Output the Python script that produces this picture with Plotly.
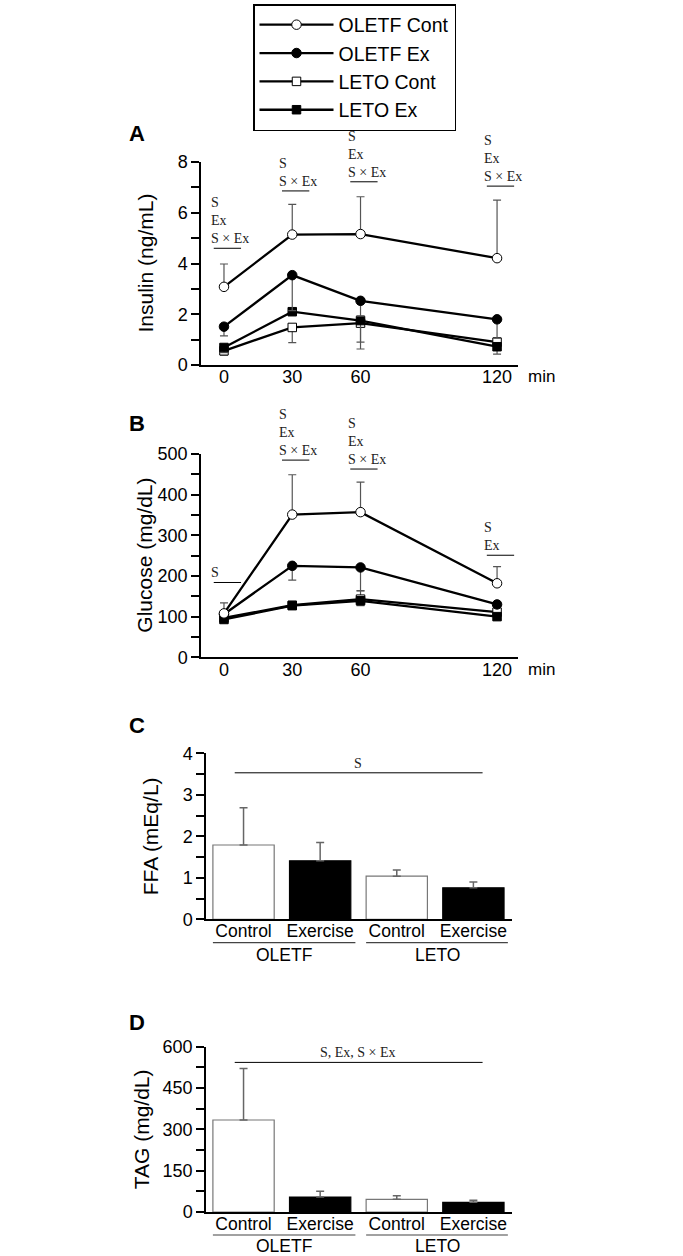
import plotly.graph_objects as go

# ---------------- data ----------------
times = [0, 30, 60, 120]
series_names = ["OLETF Cont", "OLETF Ex", "LETO Cont", "LETO Ex"]

insulin_oletf_cont = [3.08, 5.14, 5.16, 4.21]
insulin_oletf_ex = [1.51, 3.54, 2.53, 1.80]
insulin_leto_cont = [0.56, 1.48, 1.65, 0.90]
insulin_leto_ex = [0.69, 2.10, 1.75, 0.72]
insulin_err_up = {
    "OLETF Cont": [0.90, 1.19, 1.47, 2.29],
    "OLETF Ex": [0, 0, 0, 0],
    "LETO Cont": [0, 0, 0, 0.18],
    "LETO Ex": [0, 0, 0.18, 0],
}
insulin_err_down = {
    "OLETF Cont": [0, 0, 0, 0],
    "OLETF Ex": [0.36, 1.40, 0.60, 0.74],
    "LETO Cont": [0.17, 0.60, 1.02, 0],
    "LETO Ex": [0.20, 0, 0.85, 0.29],
}

glucose_oletf_cont = [108, 351, 357, 182]
glucose_oletf_ex = [106, 225, 221, 130]
glucose_leto_cont = [97, 128, 143, 111]
glucose_leto_ex = [93, 127, 139, 100]
glucose_err_up = {
    "OLETF Cont": [26, 98, 74, 41],
    "OLETF Ex": [0, 0, 0, 0],
    "LETO Cont": [8, 8, 20, 5],
    "LETO Ex": [0, 0, 0, 0],
}
glucose_err_down = {
    "OLETF Cont": [0, 0, 0, 0],
    "OLETF Ex": [0, 35, 57, 0],
    "LETO Cont": [0, 0, 0, 0],
    "LETO Ex": [8, 8, 12, 8],
}

bar_categories = ["Control", "Exercise", "Control", "Exercise"]
bar_groups = ["OLETF", "LETO"]
ffa_mean = [1.79, 1.41, 1.04, 0.76]
ffa_err = [0.90, 0.44, 0.15, 0.14]
tag_mean = [334, 54, 46, 35]
tag_err = [187, 21, 13, 8]

time_tick_labels = ["0", "30", "60", "120"]
insulin_sig = ["S<br>Ex<br>S × Ex", "S<br>S × Ex", "S<br>Ex<br>S × Ex", "S<br>Ex<br>S × Ex"]
glucose_sig = ["S", "S<br>Ex<br>S × Ex", "S<br>Ex<br>S × Ex", "S<br>Ex"]
ffa_sig = "S"
tag_sig = "S, Ex, S × Ex"

# ---------------- layout constants ----------------
W, H = 683, 1256
SANS = "Arial, Liberation Sans, Helvetica, sans-serif"
SERIF = "Times New Roman, Liberation Serif, serif"


def px_x(p):
    return p / W


def px_y(p):
    return 1 - p / H


insulin_sig_y = [4.6, 6.86, 7.22, 7.05]
glucose_sig_y = [184, 485, 463, 251]

styles = {
    "OLETF Cont": dict(symbol="circle", color="white", size=9.5),
    "OLETF Ex": dict(symbol="circle", color="black", size=9.5),
    "LETO Cont": dict(symbol="square", color="white", size=8.5),
    "LETO Ex": dict(symbol="square", color="black", size=8.5),
}

fig = go.Figure()

insulin = dict(zip(series_names, [insulin_oletf_cont, insulin_oletf_ex, insulin_leto_cont, insulin_leto_ex]))
glucose = dict(zip(series_names, [glucose_oletf_cont, glucose_oletf_ex, glucose_leto_cont, glucose_leto_ex]))

draw_order = ["LETO Cont", "LETO Ex", "OLETF Ex", "OLETF Cont"]
legend_rank = {n: i for i, n in enumerate(series_names)}

for ax, data, eu, ed in [("", insulin, insulin_err_up, insulin_err_down),
                         ("2", glucose, glucose_err_up, glucose_err_down)]:
    for name in draw_order:
        st = styles[name]
        fig.add_trace(go.Scatter(
            x=times, y=data[name], name=name,
            mode="lines+markers",
            line=dict(color="black", width=2.3),
            marker=dict(symbol=st["symbol"], size=st["size"], color=st["color"],
                        line=dict(color="black", width=1)),
            error_y=dict(type="data", symmetric=False, array=eu[name], arrayminus=ed[name],
                         color="#555", thickness=1.2, width=4),
            xaxis="x" + ax, yaxis="y" + ax,
            showlegend=(ax == ""), legendrank=legend_rank[name],
            cliponaxis=False,
        ))

bar_x = list(range(len(bar_categories)))
bar_fill = ["white", "black", "white", "black"]
bar_line = ["#777", "black", "#777", "black"]
for ax, vals, errs in [("3", ffa_mean, ffa_err), ("4", tag_mean, tag_err)]:
    fig.add_trace(go.Bar(
        x=bar_x, y=vals, width=0.8,
        marker=dict(color=bar_fill, line=dict(color=bar_line, width=1.2)),
        error_y=dict(type="data", symmetric=False, array=errs, arrayminus=[0] * len(errs),
                     color="#666", thickness=1.5, width=4),
        xaxis="x" + ax, yaxis="y" + ax, showlegend=False,
    ))

axis_common = dict(showline=True, linecolor="black", linewidth=1.5, showgrid=False,
                   zeroline=False, tickfont=dict(family=SANS, size=18, color="black"))
xcat_font = dict(family=SANS, size=17.5, color="black")

x_line = [px_x(201), px_x(518)]
x_bar = [px_x(206), px_x(511.7)]


def yax(dom, rng, major, minor, anchor):
    return dict(domain=dom, range=rng, dtick=major, ticks="outside", ticklen=8,
                tickwidth=1.5, tickcolor="black",
                minor=dict(dtick=minor, ticks="outside", ticklen=8, tickwidth=1.5, tickcolor="black"),
                anchor=anchor, **axis_common)


def xax(rng, vals, text, anchor, dom, font=None):
    d = dict(domain=dom, range=rng, tickvals=vals, ticktext=text, ticks="", anchor=anchor,
             ticklabelstandoff=-5, **axis_common)
    if font is not None:
        d["tickfont"] = font
    return d


fig.update_layout(
    width=W, height=H, margin=dict(l=0, r=0, t=0, b=0, autoexpand=False),
    paper_bgcolor="white", plot_bgcolor="white",
    font=dict(family=SANS, color="black"),
    xaxis=xax([-10.1, 129.2], times, time_tick_labels, "y", x_line),
    yaxis=yax([px_y(365), px_y(162)], [0, 8], 2, 1, "x"),
    xaxis2=xax([-10.1, 129.2], times, time_tick_labels, "y2", x_line),
    yaxis2=yax([px_y(657.3), px_y(454)], [0, 500], 100, 50, "x2"),
    xaxis3=xax([-0.49, 3.5], bar_x, bar_categories, "y3", x_bar, xcat_font),
    yaxis3=yax([px_y(919.3), px_y(753.3)], [0, 4], 1, 0.5, "x3"),
    xaxis4=xax([-0.49, 3.5], bar_x, bar_categories, "y4", x_bar, xcat_font),
    yaxis4=yax([px_y(1212), px_y(1046.7)], [0, 600], 150, 75, "x4"),
    legend=dict(x=px_x(253), y=px_y(4), xanchor="left", yanchor="top",
                bordercolor="black", borderwidth=1.5, bgcolor="white",
                font=dict(family=SANS, size=19.5, color="black"), itemwidth=74,
                tracegroupgap=0, traceorder="normal"),
    bargap=0.2,
)

annotations = []
shapes = []

# panel letters
for letter, ypix in [("A", 133), ("B", 423), ("C", 725), ("D", 1022.7)]:
    annotations.append(dict(text="<b>%s</b>" % letter, x=px_x(137), y=px_y(ypix), xref="paper", yref="paper",
                            showarrow=False, font=dict(family=SANS, size=22, color="black"),
                            xanchor="center", yanchor="middle"))

# y-axis titles
for title, xpix, ypix in [("Insulin (ng/mL)", 145, 263.5), ("Glucose (mg/dL)", 145, 555.7),
                          ("FFA (mEq/L)", 150, 836.3), ("TAG (mg/dL)", 141, 1129.3)]:
    annotations.append(dict(text=title, x=px_x(xpix), y=px_y(ypix), xref="paper", yref="paper",
                            showarrow=False, textangle=-90, font=dict(family=SANS, size=21, color="black"),
                            xanchor="center", yanchor="middle"))

# "min" labels
for ypix in [376.5, 669]:
    annotations.append(dict(text="min", x=px_x(541), y=px_y(ypix), xref="paper", yref="paper",
                            showarrow=False, font=dict(family=SANS, size=17, color="black"),
                            xanchor="center", yanchor="middle"))

# significance brackets for time courses
for ax, sig_texts, sig_y in [("", insulin_sig, insulin_sig_y), ("2", glucose_sig, glucose_sig_y)]:
    for t, txt, yv in zip(times, sig_texts, sig_y):
        shapes.append(dict(type="line", xref="x" + ax, yref="y" + ax, x0=t - 4.5, x1=t + 7.5,
                           y0=yv, y1=yv, line=dict(color="black", width=1)))
        annotations.append(dict(text=txt, x=t - 6.5, y=yv, xref="x" + ax, yref="y" + ax,
                                showarrow=False, align="left", xanchor="left", yanchor="bottom",
                                yshift=0, font=dict(family=SERIF, size=14, color="#222")))

# significance lines for bar panels
for ax, txt, yv in [("3", ffa_sig, 3.53), ("4", tag_sig, 543)]:
    shapes.append(dict(type="line", xref="x" + ax, yref="y" + ax, x0=-0.115, x1=3.12,
                       y0=yv, y1=yv, line=dict(color="black", width=1)))
    annotations.append(dict(text=txt, x=1.5, y=yv, xref="x" + ax, yref="y" + ax,
                            showarrow=False, xanchor="center", yanchor="bottom", yshift=0,
                            font=dict(family=SERIF, size=14, color="#222")))

# group underlines and labels
for ax, uy, gy in [("3", 942.7, 955), ("4", 1235, 1245.5)]:
    for gi, g in enumerate(bar_groups):
        x0, x1 = (-0.4, 1.46) if gi == 0 else (1.6, 3.45)
        shapes.append(dict(type="line", xref="x" + ax, yref="paper", x0=x0, x1=x1,
                           y0=px_y(uy), y1=px_y(uy), line=dict(color="#444", width=1.2)))
        annotations.append(dict(text=g, x=(x0 + x1) / 2, y=px_y(gy), xref="x" + ax, yref="paper",
                                showarrow=False, xanchor="center", yanchor="middle",
                                font=dict(family=SANS, size=17.5, color="black")))

fig.update_layout(annotations=annotations, shapes=shapes)

fig.write_html("out.html", config={"displayModeBar": False},
               post_script="document.body.style.margin='0';")
